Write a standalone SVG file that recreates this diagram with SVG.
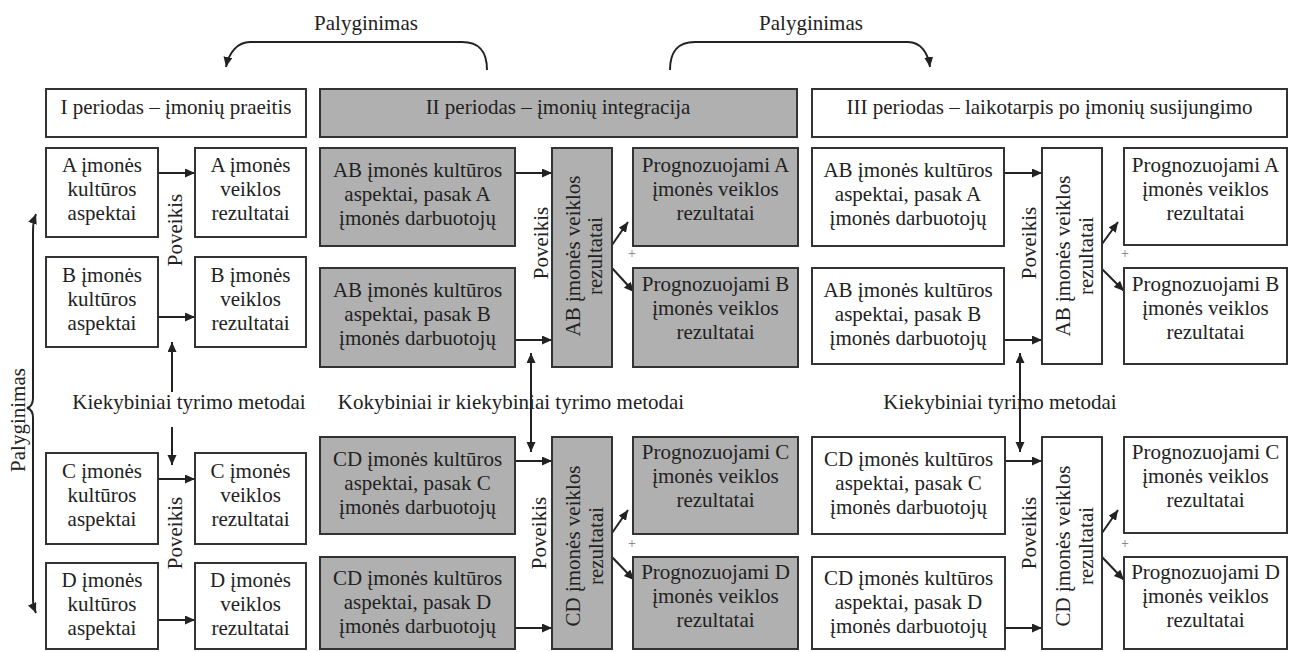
<svg xmlns="http://www.w3.org/2000/svg" width="1289" height="652" viewBox="0 0 1289 652">
<defs>
<style>
.w{fill:#ffffff;stroke:#333333;stroke-width:2}
.g{fill:#b0b0b0;stroke:#333333;stroke-width:2}
text{font-family:"Liberation Serif","Tinos","Times New Roman","DejaVu Serif",serif;font-size:21px;fill:#222222;text-anchor:middle}
.plus{font-size:14px;fill:#777777}
.c{fill:none;stroke:#222222;stroke-width:2}
.a{marker-end:url(#ah)}
.aa{marker-start:url(#ah);marker-end:url(#ah)}
</style>
<marker id="ah" markerUnits="userSpaceOnUse" markerWidth="11" markerHeight="10" refX="10" refY="4.5" orient="auto-start-reverse" viewBox="0 0 11 10">
<path d="M0,0 L10,4.5 L0,9 z" fill="#222222"/>
</marker>
</defs>
<rect width="1289" height="652" fill="#ffffff"/>

<g id="connectors">
<path class="c a" d="M487,70 C487,52 480,42 462,42 L250,42 C238,42 229,52 226,67"/>
<path class="c a" d="M670,70 C670,52 677,42 695,42 L908,42 C920,42 928,52 930,67"/>
<path class="c aa" d="M36,214 C33,222 33,226 33,235 L33,398 C33,404 31,407 27,408 C31,409 33,412 33,418 L33,596 C33,604 33,606 36,613"/>
<line class="c a" x1="158" y1="173" x2="195" y2="173"/>
<line class="c a" x1="158" y1="317" x2="195" y2="317"/>
<line class="c a" x1="158" y1="479" x2="195" y2="479"/>
<line class="c a" x1="158" y1="620" x2="195" y2="620"/>
<line class="c a" x1="515" y1="173" x2="552" y2="173"/>
<line class="c a" x1="515" y1="340" x2="552" y2="340"/>
<line class="c a" x1="515" y1="461" x2="552" y2="461"/>
<line class="c a" x1="515" y1="628" x2="552" y2="628"/>
<line class="c a" x1="1004" y1="173" x2="1042" y2="173"/>
<line class="c a" x1="1004" y1="340" x2="1042" y2="340"/>
<line class="c a" x1="1005" y1="461" x2="1042" y2="461"/>
<line class="c a" x1="1005" y1="628" x2="1042" y2="628"/>
<line class="c a" x1="612" y1="245" x2="628" y2="222"/>
<line class="c a" x1="612" y1="268" x2="634" y2="292"/>
<line class="c a" x1="612" y1="533" x2="628" y2="510"/>
<line class="c a" x1="612" y1="557" x2="634" y2="580"/>
<line class="c a" x1="1102" y1="244" x2="1118" y2="222"/>
<line class="c a" x1="1102" y1="269" x2="1124" y2="291"/>
<line class="c a" x1="1102" y1="533" x2="1118" y2="510"/>
<line class="c a" x1="1102" y1="557" x2="1124" y2="580"/>
<line class="c a" x1="172" y1="392" x2="172" y2="342"/>
<line class="c a" x1="172" y1="427" x2="172" y2="465"/>
<line class="c aa" x1="531" y1="353" x2="531" y2="452"/>
<line class="c aa" x1="1020" y1="353" x2="1020" y2="452"/>
</g>

<g id="labels">
<text x="366" y="30">Palyginimas</text>
<text x="811" y="30">Palyginimas</text>
<text transform="translate(25,420) rotate(-90)">Palyginimas</text>
<text x="189" y="409">Kiekybiniai tyrimo metodai</text>
<text x="511" y="409">Kokybiniai ir kiekybiniai tyrimo metodai</text>
<text x="1000" y="409">Kiekybiniai tyrimo metodai</text>
<text transform="translate(182,230) rotate(-90)">Poveikis</text>
<text transform="translate(182,533) rotate(-90)">Poveikis</text>
<text transform="translate(548,243) rotate(-90)">Poveikis</text>
<text transform="translate(546,533) rotate(-90)">Poveikis</text>
<text transform="translate(1036,243) rotate(-90)">Poveikis</text>
<text transform="translate(1036,533) rotate(-90)">Poveikis</text>
<text class="plus" x="632" y="258">+</text>
<text class="plus" x="632" y="548">+</text>
<text class="plus" x="1125" y="258">+</text>
<text class="plus" x="1125" y="548">+</text>
</g>

<g id="h1"><rect class="w" x="46" y="89" width="260" height="48"/><text x="176" y="114">I periodas – įmonių praeitis</text></g>
<g id="h2"><rect class="g" x="320" y="89" width="477" height="48"/><text x="558" y="114">II periodas – įmonių integracija</text></g>
<g id="h3"><rect class="w" x="812" y="89" width="475" height="48"/><text x="1049.5" y="114">III periodas – laikotarpis po įmonių susijungimo</text></g>

<g id="a_cult"><rect class="w" x="46" y="148" width="112" height="89"/><text x="102" y="172">A įmonės</text><text x="102" y="196">kultūros</text><text x="102" y="220">aspektai</text></g>
<g id="a_res"><rect class="w" x="195" y="148" width="111" height="89"/><text x="250.5" y="172">A įmonės</text><text x="250.5" y="196">veiklos</text><text x="250.5" y="220">rezultatai</text></g>
<g id="b_cult"><rect class="w" x="46" y="257" width="112" height="90"/><text x="102" y="282">B įmonės</text><text x="102" y="306">kultūros</text><text x="102" y="330">aspektai</text></g>
<g id="b_res"><rect class="w" x="195" y="257" width="111" height="90"/><text x="250.5" y="282">B įmonės</text><text x="250.5" y="306">veiklos</text><text x="250.5" y="330">rezultatai</text></g>
<g id="c_cult"><rect class="w" x="46" y="453" width="112" height="91"/><text x="102" y="478">C įmonės</text><text x="102" y="502">kultūros</text><text x="102" y="526">aspektai</text></g>
<g id="c_res"><rect class="w" x="195" y="453" width="111" height="91"/><text x="250.5" y="478">C įmonės</text><text x="250.5" y="502">veiklos</text><text x="250.5" y="526">rezultatai</text></g>
<g id="d_cult"><rect class="w" x="46" y="563" width="112" height="86"/><text x="102" y="587">D įmonės</text><text x="102" y="611">kultūros</text><text x="102" y="635">aspektai</text></g>
<g id="d_res"><rect class="w" x="195" y="563" width="111" height="86"/><text x="250.5" y="587">D įmonės</text><text x="250.5" y="611">veiklos</text><text x="250.5" y="635">rezultatai</text></g>

<g id="ab_a2"><rect class="g" x="320" y="148" width="195" height="98"/><text x="417.5" y="177">AB įmonės kultūros</text><text x="417.5" y="201">aspektai, pasak A</text><text x="417.5" y="225">įmonės darbuotojų</text></g>
<g id="ab_b2"><rect class="g" x="320" y="268" width="195" height="99"/><text x="417.5" y="297">AB įmonės kultūros</text><text x="417.5" y="321">aspektai, pasak B</text><text x="417.5" y="345">įmonės darbuotojų</text></g>
<g id="cd_c2"><rect class="g" x="320" y="437" width="195" height="97"/><text x="417.5" y="466">CD įmonės kultūros</text><text x="417.5" y="490">aspektai, pasak C</text><text x="417.5" y="514">įmonės darbuotojų</text></g>
<g id="cd_d2"><rect class="g" x="320" y="557" width="195" height="92"/><text x="417.5" y="585">CD įmonės kultūros</text><text x="417.5" y="609">aspektai, pasak D</text><text x="417.5" y="633">įmonės darbuotojų</text></g>
<g id="ab_res2"><rect class="g" x="552" y="148" width="60" height="219"/><g transform="translate(582,256) rotate(-90)"><text x="0" y="-2">AB įmonės veiklos</text><text x="0" y="20">rezultatai</text></g></g>
<g id="cd_res2"><rect class="g" x="552" y="437" width="60" height="212"/><g transform="translate(582,546) rotate(-90)"><text x="0" y="-2">CD įmonės veiklos</text><text x="0" y="21">rezultatai</text></g></g>
<g id="pa2"><rect class="g" x="633" y="148" width="165" height="98"/><text x="715.5" y="172">Prognozuojami A</text><text x="715.5" y="196">įmonės veiklos</text><text x="715.5" y="220">rezultatai</text></g>
<g id="pb2"><rect class="g" x="633" y="268" width="165" height="99"/><text x="715.5" y="291">Prognozuojami B</text><text x="715.5" y="315">įmonės veiklos</text><text x="715.5" y="339">rezultatai</text></g>
<g id="pc2"><rect class="g" x="633" y="437" width="165" height="97"/><text x="715.5" y="459">Prognozuojami C</text><text x="715.5" y="483">įmonės veiklos</text><text x="715.5" y="507">rezultatai</text></g>
<g id="pd2"><rect class="g" x="633" y="557" width="165" height="92"/><text x="715.5" y="579">Prognozuojami D</text><text x="715.5" y="603">įmonės veiklos</text><text x="715.5" y="627">rezultatai</text></g>

<g id="ab_a3"><rect class="w" x="812" y="148" width="192" height="98"/><text x="908" y="177">AB įmonės kultūros</text><text x="908" y="201">aspektai, pasak A</text><text x="908" y="225">įmonės darbuotojų</text></g>
<g id="ab_b3"><rect class="w" x="812" y="268" width="192" height="96"/><text x="908" y="297">AB įmonės kultūros</text><text x="908" y="321">aspektai, pasak B</text><text x="908" y="345">įmonės darbuotojų</text></g>
<g id="cd_c3"><rect class="w" x="812" y="437" width="193" height="97"/><text x="908.5" y="466">CD įmonės kultūros</text><text x="908.5" y="490">aspektai, pasak C</text><text x="908.5" y="514">įmonės darbuotojų</text></g>
<g id="cd_d3"><rect class="w" x="812" y="557" width="193" height="92"/><text x="908.5" y="585">CD įmonės kultūros</text><text x="908.5" y="609">aspektai, pasak D</text><text x="908.5" y="633">įmonės darbuotojų</text></g>
<g id="ab_res3"><rect class="w" x="1042" y="148" width="60" height="216"/><g transform="translate(1072,256) rotate(-90)"><text x="0" y="-2">AB įmonės veiklos</text><text x="0" y="21">rezultatai</text></g></g>
<g id="cd_res3"><rect class="w" x="1042" y="437" width="60" height="212"/><g transform="translate(1072,546) rotate(-90)"><text x="0" y="-2">CD įmonės veiklos</text><text x="0" y="21">rezultatai</text></g></g>
<g id="pa3"><rect class="w" x="1124" y="148" width="163" height="97"/><text x="1205.5" y="172">Prognozuojami A</text><text x="1205.5" y="196">įmonės veiklos</text><text x="1205.5" y="220">rezultatai</text></g>
<g id="pb3"><rect class="w" x="1124" y="268" width="163" height="96"/><text x="1205.5" y="291">Prognozuojami B</text><text x="1205.5" y="315">įmonės veiklos</text><text x="1205.5" y="339">rezultatai</text></g>
<g id="pc3"><rect class="w" x="1124" y="437" width="163" height="96"/><text x="1205.5" y="459">Prognozuojami C</text><text x="1205.5" y="483">įmonės veiklos</text><text x="1205.5" y="507">rezultatai</text></g>
<g id="pd3"><rect class="w" x="1124" y="557" width="163" height="92"/><text x="1205.5" y="579">Prognozuojami D</text><text x="1205.5" y="603">įmonės veiklos</text><text x="1205.5" y="627">rezultatai</text></g>
</svg>
